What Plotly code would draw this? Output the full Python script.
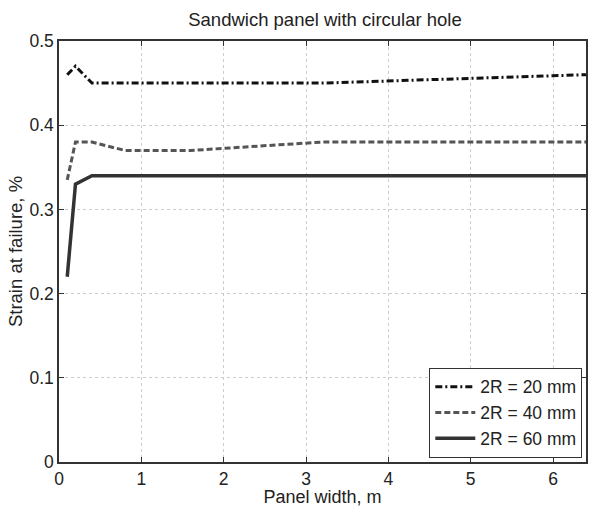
import plotly.graph_objects as go

width_m = [0.1, 0.2, 0.4, 0.8, 1.6, 3.2, 6.4]
strain_20 = [0.46, 0.47, 0.45, 0.45, 0.45, 0.45, 0.46]
strain_40 = [0.335, 0.38, 0.38, 0.37, 0.37, 0.38, 0.38]
strain_60 = [0.22, 0.33, 0.34, 0.34, 0.34, 0.34, 0.34]
names = ["2R = 20 mm", "2R = 40 mm", "2R = 60 mm"]
x_ticks = [0, 1, 2, 3, 4, 5, 6]
y_ticks = [0, 0.1, 0.2, 0.3, 0.4, 0.5]
y_tick_text = ["0", "0.1", "0.2", "0.3", "0.4", "0.5"]

fig = go.Figure()
fig.add_trace(go.Scatter(x=width_m, y=strain_20, mode="lines", name=names[0],
                         line=dict(color="#111111", width=3, dash="7px,3px,2px,3px")))
fig.add_trace(go.Scatter(x=width_m, y=strain_40, mode="lines", name=names[1],
                         line=dict(color="#555555", width=3, dash="6px,3px")))
fig.add_trace(go.Scatter(x=width_m, y=strain_60, mode="lines", name=names[2],
                         line=dict(color="#333333", width=3.5)))

font = "Liberation Sans, Arial, sans-serif"
txt = "#222222"
axis_common = dict(showline=True, linecolor="#333333", linewidth=1.5, mirror="ticks",
                   ticks="inside", ticklen=5, tickcolor="#333333",
                   showgrid=True, gridcolor="#cccccc", griddash="dot", gridwidth=1,
                   zeroline=False, automargin=False,
                   tickfont=dict(size=17.5, color=txt, family=font))

fig.update_layout(
    width=589, height=507,
    paper_bgcolor="white", plot_bgcolor="white",
    margin=dict(l=59, r=3, t=41, b=45),
    title=dict(text="Sandwich panel with circular hole",
               x=325 / 589, xref="container", xanchor="center",
               y=1 - 20 / 507, yref="container", yanchor="middle",
               font=dict(size=18.5, color=txt, family=font)),
    xaxis=dict(range=[0, 6.4], tickvals=x_ticks, **axis_common,
               title=dict(text="Panel width, m", standoff=3,
                          font=dict(size=18, color=txt, family=font))),
    yaxis=dict(range=[0, 0.5], tickvals=y_ticks, ticktext=y_tick_text, **axis_common,
               title=dict(text="Strain at failure, %", standoff=2,
                          font=dict(size=18.5, color=txt, family=font))),
    legend=dict(x=0.993, y=0.01, xanchor="right", yanchor="bottom",
                bgcolor="white", bordercolor="#333333", borderwidth=1,
                font=dict(size=17.5, color=txt, family=font),
                tracegroupgap=0, itemwidth=40),
    showlegend=True,
)

fig.write_html("out.html", config={"displayModeBar": False},
               post_script="document.body.style.margin='0';")
